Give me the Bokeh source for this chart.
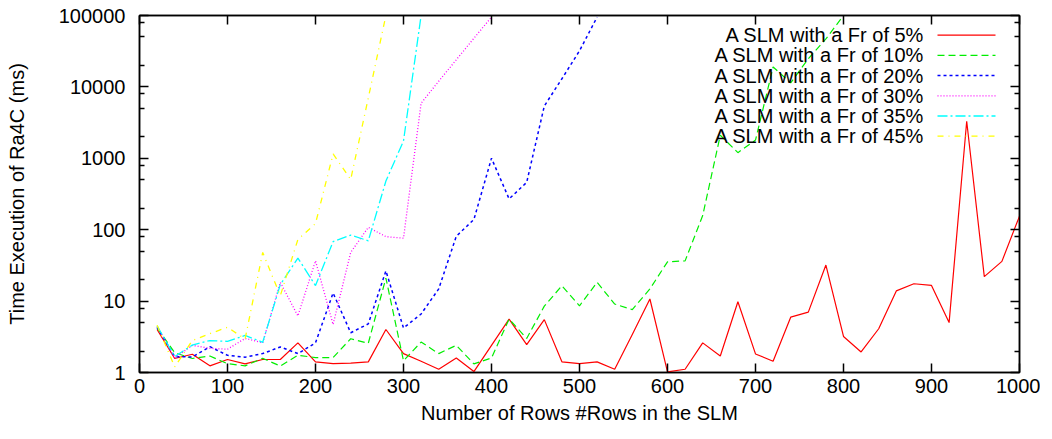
from bokeh.plotting import figure
from bokeh.models import (FixedTicker, LinearAxis, LogAxis, Range1d,
                          CustomJSTickFormatter, Label, Arrow)
from bokeh.embed import file_html
from bokeh.resources import INLINE

# ---------------- data ----------------
rows = [20, 40, 60, 80, 100, 120, 140, 160, 180, 200,
        220, 240, 260, 280, 300, 320, 340, 360, 380, 400,
        420, 440, 460, 480, 500, 520, 540, 560, 580, 600,
        620, 640, 660, 680, 700, 720, 740, 760, 780, 800,
        820, 840, 860, 880, 900, 920, 940, 960, 980, 1000]

fr5 = [4.0, 1.57, 1.8, 1.24, 1.52, 1.32, 1.52, 1.52, 2.6, 1.41,
       1.33, 1.35, 1.41, 4.0, 1.84, 1.44, 1.11, 1.6, 1.03, 2.4,
       5.6, 2.45, 5.5, 1.41, 1.33, 1.41, 1.11, 3.4, 10.7, 1.02,
       1.11, 2.6, 1.7, 9.8, 1.82, 1.44, 5.95, 7.0, 32, 3.2,
       1.94, 4.1, 13.9, 17.5, 16.6, 5.0, 3300, 22, 36, 155]

fr10 = [4.2, 1.9, 1.57, 1.7, 1.33, 1.24, 1.58, 1.23, 1.74, 1.62,
        1.62, 2.97, 2.57, 21, 1.46, 2.67, 1.84, 2.4, 1.32, 1.6,
        5.6, 3.0, 8.5, 16.4, 8.6, 18.3, 9.1, 7.6, 14.8, 35.5,
        36.6, 158, 2100, 1200, 1800, 19000, 11400, 24800, 47000, 100000]

fr20 = [4.3, 1.67, 1.65, 2.3, 1.74, 1.64, 1.84, 2.28, 1.84, 2.6,
        13, 3.6, 4.8, 26.5, 4.2, 6.6, 14.8, 81, 139, 1000,
        270, 460, 5400, 13000, 32000, 95000]

fr30 = [4.4, 1.6, 2.4, 2.18, 2.12, 3.0, 2.6, 18.3, 6.2, 36.6,
        4.7, 48, 108, 80, 76, 5900, 12000, 24000, 48000, 95000]

fr35 = [4.5, 1.67, 2.42, 2.8, 2.73, 3.3, 2.65, 17, 40, 16.5,
        68, 84, 70, 480, 1750, 100000]

fr45 = [4.6, 1.2, 2.8, 3.5, 4.3, 2.95, 48, 11.9, 73, 122,
        1150, 505, 7000, 100000]

series_labels = ["A SLM with a Fr of 5%", "A SLM with a Fr of 10%",
                 "A SLM with a Fr of 20%", "A SLM with a Fr of 30%",
                 "A SLM with a Fr of 35%", "A SLM with a Fr of 45%"]

x_ticks = [0, 100, 200, 300, 400, 500, 600, 700, 800, 900, 1000]
y_ticks = [1, 10, 100, 1000, 10000, 100000]
y_minor = [2, 5, 8, 20, 50, 80, 200, 500, 800, 2000, 5000, 8000,
           20000, 50000, 80000]

x_label = "Number of Rows #Rows in the SLM"
y_label = "Time Execution of Ra4C (ms)"

# ---------------- styles ----------------
FONT = "Liberation Sans"
FS = "20px"
styles = [
    dict(color="#ff0000", dash="solid", width=1.2),
    dict(color="#00ee00", dash="7 4", width=1.2),
    dict(color="#0000ff", dash="3 3", width=1.5),
    dict(color="#ff00ff", dash="1 2", width=1.3),
    dict(color="#00ffff", dash="10 3 2 3", width=1.3),
    dict(color="#ffff00", dash="6 5 1 5", width=1.3),
]

p = figure(frame_width=880, frame_height=357,
           min_border_left=139, min_border_right=21,
           min_border_top=15, min_border_bottom=50,
           x_range=Range1d(0, 1000), y_range=Range1d(1, 100000),
           y_axis_type="log", output_backend="svg",
           toolbar_location=None, background_fill_color="white",
           border_fill_color="white")
p.xgrid.visible = False
p.ygrid.visible = False
p.outline_line_color = "black"
p.outline_line_width = 1.5

fmt = CustomJSTickFormatter(code="return tick.toFixed(0);")
blank = CustomJSTickFormatter(code="return '';")

def style_axis(ax):
    ax.axis_line_color = "black"
    ax.axis_line_width = 1.5
    ax.major_tick_in = 9
    ax.major_tick_out = 0
    ax.minor_tick_in = 5
    ax.minor_tick_out = 0
    ax.major_tick_line_color = "black"
    ax.minor_tick_line_color = "black"
    ax.major_tick_line_width = 1.5
    ax.minor_tick_line_width = 1.5
    ax.major_label_text_font = FONT
    ax.major_label_text_font_size = FS
    ax.major_label_text_color = "black"
    ax.axis_label_text_font = FONT
    ax.axis_label_text_font_size = FS
    ax.axis_label_text_font_style = "normal"
    ax.axis_label_text_color = "black"

xa = p.xaxis[0]
xa.ticker = FixedTicker(ticks=x_ticks, minor_ticks=[])
xa.axis_label = x_label
style_axis(xa)
xa.major_label_standoff = 6
xa.axis_label_standoff = 6

ya = p.yaxis[0]
ya.ticker = FixedTicker(ticks=y_ticks, minor_ticks=y_minor)
ya.formatter = fmt
ya.axis_label = y_label
style_axis(ya)
ya.major_label_standoff = 14
ya.axis_label_standoff = 28

top = LinearAxis(ticker=FixedTicker(ticks=x_ticks, minor_ticks=[]),
                 formatter=blank)
style_axis(top)
top.major_label_standoff = -22
p.add_layout(top, "above")

right = LogAxis(ticker=FixedTicker(ticks=y_ticks, minor_ticks=y_minor),
                formatter=blank)
style_axis(right)
right.major_label_standoff = 0
p.add_layout(right, "right")

all_series = [fr5, fr10, fr20, fr30, fr35, fr45]
for vals, st in zip(all_series, styles):
    p.line(rows[:len(vals)], vals, line_color=st["color"],
           line_dash=st["dash"], line_width=st["width"])

# ---------------- legend (screen units inside frame) ----------------
text_right = 785.0
sample_x0, sample_x1 = 798.0, 856.0
row_top = 337.3
row_step = 20.2
for i, st in enumerate(styles):
    yy = float(row_top - i * row_step)
    p.add_layout(Arrow(x_start=sample_x0, y_start=yy, x_end=sample_x1, y_end=yy,
                       start_units="screen", end_units="screen",
                       start=None, end=None, line_color=st["color"],
                       line_alpha=1.0, line_dash=st["dash"],
                       line_width=st["width"]))
for i, lab in enumerate(series_labels):
    yy = float(row_top - i * row_step)
    p.add_layout(Label(x=text_right, y=yy, x_units="screen", y_units="screen",
                       text=lab, text_align="right", text_baseline="middle",
                       text_font=FONT, text_font_size=FS, text_color="black"))

open("out.html", "w").write(file_html(p, INLINE))
